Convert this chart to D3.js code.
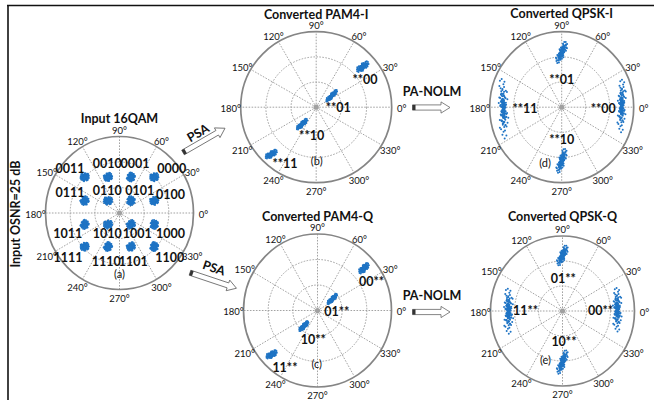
<!DOCTYPE html>
<html>
<head>
<meta charset="utf-8">
<script src="https://cdn.jsdelivr.net/npm/d3@7"></script>
<style>
body { margin: 0; background: #fff; }
text { font-family: Lato, "Open Sans", sans-serif; fill: #111; }
</style>
</head>
<body>
<div id="chart"></div>
<script>
var w = 655, h = 400; // size of the picture

// polar grid of every plot
var angleTicks = [0, 30, 60, 90, 120, 150, 180, 210, 240, 270, 300, 330];
var ringLevels = [1 / 3, 2 / 3];

// hand read spread of the samples inside one cluster (along axis, across axis)
var spread = [
  [0.12, -0.35], [-0.48, 0.22], [0.61, 0.05], [-0.15, -0.72], [0.33, 0.58], [-0.70, -0.18],
  [0.05, 0.12], [0.84, -0.40], [-0.36, 0.81], [0.22, -0.06], [-0.58, -0.52], [0.47, 0.31],
  [-0.09, 0.44], [0.71, 0.66], [-0.83, 0.37], [0.28, -0.88], [-0.24, -0.21], [0.55, -0.62],
  [-0.42, 0.03], [0.02, -0.45], [0.93, 0.14], [-0.66, 0.62], [0.17, 0.91], [-0.12, 0.25],
  [0.38, -0.27], [-0.95, -0.06], [0.64, 0.42], [-0.30, -0.94], [0.08, 0.63], [-0.53, -0.33],
  [0.45, 0.02], [-0.19, 0.58], [0.76, -0.17], [-0.74, 0.12], [0.26, 0.33], [-0.04, -0.12],
  [0.51, -0.84], [-0.61, 0.85], [0.11, -0.58], [-0.38, 0.38], [0.87, 0.52], [-0.27, -0.55],
  [0.35, 0.76], [-0.86, -0.43], [0.01, 0.02], [0.67, -0.29], [-0.46, -0.75], [0.19, 0.18]
];
var spreadLayers = [1, 0.62, 0.32];

// (a) input 16QAM
var qamSymbols = ["0011", "0010", "0001", "0000", "0111", "0110", "0101", "0100",
                  "1011", "1010", "1001", "1000", "1111", "1110", "1101", "1100"];
var qamI = [-0.47, -0.155, 0.155, 0.47, -0.47, -0.155, 0.155, 0.47,
            -0.47, -0.155, 0.155, 0.47, -0.47, -0.155, 0.155, 0.47];
var qamQ = [0.47, 0.47, 0.47, 0.47, 0.16, 0.16, 0.16, 0.16,
            -0.15, -0.15, -0.15, -0.15, -0.44, -0.44, -0.44, -0.44];
var qamAxis = [10, 35, 70, 20, 50, 5, 80, 30, 65, 15, 45, 85, 25, 60, 40, 75];
var qamLabelX = [-0.67, -0.165, 0.21, 0.705, -0.67, -0.165, 0.275, 0.69,
                 -0.70, -0.165, 0.24, 0.69, -0.695, -0.18, 0.185, 0.68];
var qamLabelY = [0.575, 0.64, 0.64, 0.575, 0.265, 0.29, 0.29, 0.235,
                 -0.275, -0.275, -0.275, -0.275, -0.58, -0.63, -0.63, -0.58];

// (b) converted PAM4-I
var pamILabels = ["**00", "**01", "**10", "**11"];
var pamIx = [0.616, 0.205, -0.188, -0.595];
var pamIy = [0.536, 0.151, -0.225, -0.623];
var pamIaxis = [38, 46, 44, 32];
var pamIlen = [0.1, 0.108, 0.1, 0.092];
var pamIwid = [0.045, 0.03, 0.032, 0.042];
var pamILabelX = [0.646, 0.293, -0.06, -0.413];
var pamILabelY = [0.36, -0.007, -0.381, -0.743];

// (c) converted PAM4-Q
var pamQLabels = ["00**", "01**", "10**", "11**"];
var pamQx = [0.628, 0.2, -0.185, -0.62];
var pamQy = [0.552, 0.15, -0.205, -0.575];
var pamQaxis = [44, 45, 45, 30];
var pamQlen = [0.09, 0.095, 0.09, 0.085];
var pamQwid = [0.042, 0.03, 0.032, 0.042];
var pamQLabelX = [0.73, 0.26, -0.057, -0.44];
var pamQLabelY = [0.375, -0.016, -0.376, -0.742];

// (d) converted QPSK-I
var qpskILabels = ["**01", "**11", "**00", "**10"];
var qpskIx = [0, -0.81, 0.833, 0];
var qpskIy = [0.725, -0.015, 0.02, -0.71];
var qpskIaxis = [65, 92, 88, 71];
var qpskIlen = [0.16, 0.42, 0.37, 0.175];
var qpskIwid = [0.05, 0.068, 0.06, 0.05];
var qpskILabelX = [0, -0.51, 0.578, 0];
var qpskILabelY = [0.36, -0.024, -0.024, -0.434];

// (e) converted QPSK-Q
var qpskQLabels = ["01**", "11**", "00**", "10**"];
var qpskQx = [0, -0.75, 0.76, 0];
var qpskQy = [0.74, 0, 0.02, -0.68];
var qpskQaxis = [65, 90, 90, 69];
var qpskQlen = [0.15, 0.32, 0.31, 0.175];
var qpskQwid = [0.05, 0.068, 0.065, 0.05];
var qpskQLabelX = [0.01, -0.514, 0.528, 0.02];
var qpskQLabelY = [0.436, 0, 0.01, -0.413];

var titles = ["Input 16QAM", "Converted PAM4-I", "Converted PAM4-Q", "Converted QPSK-I", "Converted QPSK-Q"];
var tags = ["(a)", "(b)", "(c)", "(d)", "(e)"];
var tagX = [0, 0.007, -0.01, -0.232, -0.236];
var tagY = [-0.805, -0.709, -0.7, -0.735, -0.654];

var sideTitle = "Input OSNR=25 dB";

var svg = d3.select("#chart")
    .append("svg")
    .attr("width", w)
    .attr("height", h);

// frame: top and left border only
svg.append("line").attr("x1", 7).attr("y1", 5.5).attr("x2", 654).attr("y2", 5.5)
    .attr("stroke", "#111").attr("stroke-width", 1.6);
svg.append("line").attr("x1", 8).attr("y1", 5).attr("x2", 8).attr("y2", 400)
    .attr("stroke", "#111").attr("stroke-width", 1.6);

function clusterPoints(cx, cy, axis, len, wid) {
  var pts = [];
  for (var k = 0; k < cx.length; k++) {
    var a = axis[k] * Math.PI / 180;
    spreadLayers.forEach(function(f) {
      spread.forEach(function(s) {
        var u = s[0] * len[k] * f, v = s[1] * wid[k] * f;
        pts.push({x: cx[k] + u * Math.cos(a) - v * Math.sin(a),
                  y: cy[k] + u * Math.sin(a) + v * Math.cos(a)});
      });
    });
  }
  return pts;
}

function polarPlot(p) {
  var xs = d3.scaleLinear().domain([-1, 1]).range([p.cx - p.rx, p.cx + p.rx]);
  var ys = d3.scaleLinear().domain([-1, 1]).range([p.cy + p.ry, p.cy - p.ry]);
  var g = svg.append("g");

  // dotted rings and spokes
  g.selectAll("ellipse.ring").data(ringLevels).enter().append("ellipse")
    .attr("cx", xs(0)).attr("cy", ys(0))
    .attr("rx", function(d) { return xs(d) - xs(0); })
    .attr("ry", function(d) { return ys(0) - ys(d); })
    .attr("fill", "none").attr("stroke", "#999").attr("stroke-width", 0.9)
    .attr("stroke-dasharray", "1.6,1.4");
  g.selectAll("line.spoke").data(angleTicks).enter().append("line")
    .attr("x1", xs(0)).attr("y1", ys(0))
    .attr("x2", function(d) { return xs(Math.cos(d * Math.PI / 180)); })
    .attr("y2", function(d) { return ys(Math.sin(d * Math.PI / 180)); })
    .attr("stroke", "#999").attr("stroke-width", 0.9)
    .attr("stroke-dasharray", "1.6,1.4");
  g.append("ellipse")
    .attr("cx", xs(0)).attr("cy", ys(0)).attr("rx", p.rx).attr("ry", p.ry)
    .attr("fill", "none").attr("stroke", "#858585").attr("stroke-width", 1.7);
  g.append("circle").attr("cx", xs(0)).attr("cy", ys(0)).attr("r", 2.6).attr("fill", "#a0a0a0");

  // angle labels
  g.selectAll("text.ang").data(angleTicks).enter().append("text")
    .attr("x", function(d) { return p.cx + (p.rx + 10) * Math.cos(d * Math.PI / 180); })
    .attr("y", function(d) { return p.cy - (p.ry + 7.5) * Math.sin(d * Math.PI / 180) + 1.5; })
    .attr("dy", "0.35em")
    .attr("text-anchor", "middle")
    .attr("font-size", 9.5)
    .text(function(d) { return d + "°"; });

  // samples
  g.selectAll("circle.pt").data(p.points).enter().append("circle")
    .attr("cx", function(d) { return xs(d.x); })
    .attr("cy", function(d) { return ys(d.y); })
    .attr("r", 1)
    .attr("fill", "#1f74c4");

  // symbol labels
  g.selectAll("text.sym").data(p.labels).enter().append("text")
    .attr("x", function(d, i) { return xs(p.labelX[i]); })
    .attr("y", function(d, i) { return ys(p.labelY[i]); })
    .attr("dy", "0.35em")
    .attr("text-anchor", "middle")
    .attr("font-size", 12.5)
    .attr("font-weight", "bold")
    .text(function(d) { return d; });

  g.append("text")
    .attr("x", xs(p.tagX)).attr("y", ys(p.tagY))
    .attr("dy", "0.35em").attr("text-anchor", "middle")
    .attr("font-size", 11)
    .text(p.tag);

  g.append("text")
    .attr("x", p.cx).attr("y", p.titleY)
    .attr("text-anchor", "middle")
    .attr("font-size", 12.5).attr("font-weight", "bold")
    .text(p.title);
}

var panels = [
  {cx: 119.5, cy: 213, rx: 74, ry: 76.5, titleY: 123, title: titles[0], tag: tags[0], tagX: tagX[0], tagY: tagY[0],
   points: clusterPoints(qamI, qamQ, qamAxis,
                         qamI.map(function() { return 0.062; }), qamI.map(function() { return 0.055; })),
   labels: qamSymbols, labelX: qamLabelX, labelY: qamLabelY},
  {cx: 316.2, cy: 107.2, rx: 75.5, ry: 75.5, titleY: 18.5, title: titles[1], tag: tags[1], tagX: tagX[1], tagY: tagY[1],
   points: clusterPoints(pamIx, pamIy, pamIaxis, pamIlen, pamIwid),
   labels: pamILabels, labelX: pamILabelX, labelY: pamILabelY},
  {cx: 317.5, cy: 310.5, rx: 74, ry: 76.5, titleY: 220.5, title: titles[2], tag: tags[2], tagX: tagX[2], tagY: tagY[2],
   points: clusterPoints(pamQx, pamQy, pamQaxis, pamQlen, pamQwid),
   labels: pamQLabels, labelX: pamQLabelX, labelY: pamQLabelY},
  {cx: 561.7, cy: 107.2, rx: 72, ry: 75.5, titleY: 17.5, title: titles[3], tag: tags[3], tagX: tagX[3], tagY: tagY[3],
   points: clusterPoints(qpskIx, qpskIy, qpskIaxis, qpskIlen, qpskIwid),
   labels: qpskILabels, labelX: qpskILabelX, labelY: qpskILabelY},
  {cx: 562.5, cy: 311, rx: 72, ry: 75, titleY: 220.5, title: titles[4], tag: tags[4], tagX: tagX[4], tagY: tagY[4],
   points: clusterPoints(qpskQx, qpskQy, qpskQaxis, qpskQlen, qpskQwid),
   labels: qpskQLabels, labelX: qpskQLabelX, labelY: qpskQLabelY}
];
panels.forEach(polarPlot);

// side title
svg.append("text")
  .attr("transform", "translate(19.5,214) rotate(-90)")
  .attr("text-anchor", "middle")
  .attr("font-size", 12.5).attr("font-weight", "bold")
  .text(sideTitle);

// hollow block arrows
function blockArrow(x, y, len, angle) {
  var sh = 2.6, hh = 5.6, hl = 9;
  var g = svg.append("g").attr("transform", "translate(" + x + "," + y + ") rotate(" + angle + ")");
  g.append("path")
    .attr("d", "M0," + (-sh) + "L" + (len - hl) + "," + (-sh) + "L" + (len - hl) + "," + (-hh) +
               "L" + len + ",0L" + (len - hl) + "," + hh + "L" + (len - hl) + "," + sh + "L0," + sh + "Z")
    .attr("fill", "#fff").attr("stroke", "#666").attr("stroke-width", 0.8);
  g.append("rect").attr("x", 0).attr("y", -sh).attr("width", 3).attr("height", 2 * sh).attr("fill", "#333");
}

function arrowLabel(x, y, angle, txt) {
  svg.append("text")
    .attr("transform", "translate(" + x + "," + y + ") rotate(" + angle + ")")
    .attr("text-anchor", "middle").attr("dy", "0.35em")
    .attr("font-size", 12.5).attr("font-weight", "bold")
    .text(txt);
}

blockArrow(183, 152.5, 48.5, -30);
arrowLabel(198, 133, -30, "PSA");
blockArrow(190, 272.7, 49, 18.5);
arrowLabel(214, 268, 18.5, "PSA");

blockArrow(412.5, 107.5, 37.5, 0);
arrowLabel(432, 92, 0, "PA-NOLM");
blockArrow(412.5, 312, 37.5, 0);
arrowLabel(432, 296, 0, "PA-NOLM");
</script>
</body>
</html>
